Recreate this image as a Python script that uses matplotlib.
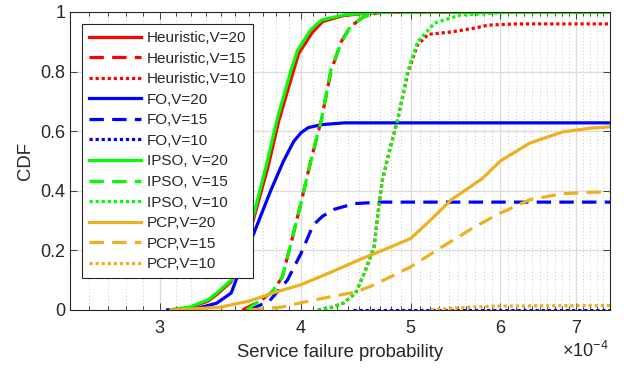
import numpy as np
import matplotlib
matplotlib.use("Agg")
import matplotlib.pyplot as plt
from matplotlib.ticker import FixedLocator, FixedFormatter, NullFormatter

plt.rcParams['font.family'] = ['Liberation Sans', 'DejaVu Sans']
plt.rcParams['mathtext.fontset'] = 'custom'
plt.rcParams['mathtext.rm'] = 'Liberation Sans'

# failure probability in units of 1e-4, CDF values
heu20_x = [3.05, 3.19, 3.31, 3.37, 3.47, 3.61, 3.74, 3.82, 3.93, 3.98, 4.09, 4.18, 4.36, 4.6, 4.75, 7.6]
heu20_y = [0.0, 0.008, 0.03, 0.052, 0.095, 0.27, 0.48, 0.63, 0.79, 0.86, 0.93, 0.968, 0.988, 0.997, 1.0, 1.0]
heu15_x = [3.55, 3.68, 3.77, 3.85, 3.92, 4.0, 4.08, 4.17, 4.25, 4.34, 4.42, 4.54, 4.67, 4.75, 7.6]
heu15_y = [0.0, 0.03, 0.06, 0.11, 0.225, 0.36, 0.5, 0.64, 0.8, 0.9, 0.95, 0.983, 0.997, 1.0, 1.0]
heu10_x = [4.14, 4.25, 4.36, 4.47, 4.55, 4.64, 4.69, 4.72, 4.8, 4.87, 4.97, 5.07, 5.18, 5.43, 5.7, 5.85, 6.2, 7.6]
heu10_y = [0.0, 0.008, 0.023, 0.057, 0.124, 0.21, 0.36, 0.436, 0.55, 0.64, 0.795, 0.89, 0.925, 0.933, 0.946, 0.956, 0.96, 0.96]

fo20_x = [3.05, 3.22, 3.37, 3.47, 3.61, 3.76, 3.86, 3.94, 4.0, 4.06, 4.17, 4.37, 7.6]
fo20_y = [0.0, 0.003, 0.023, 0.057, 0.23, 0.40, 0.50, 0.565, 0.595, 0.612, 0.622, 0.628, 0.628]
fo15_x = [3.6, 3.75, 3.89, 4.0, 4.1, 4.18, 4.28, 4.46, 4.7, 7.6]
fo15_y = [0.0, 0.03, 0.1, 0.19, 0.285, 0.315, 0.338, 0.357, 0.362, 0.362]
fo10_x = [4.45, 7.6]
fo10_y = [0.0, 0.0]

ipso20_x = [3.07, 3.19, 3.31, 3.37, 3.47, 3.61, 3.73, 3.81, 3.92, 3.97, 4.08, 4.17, 4.36, 4.6, 4.75, 7.6]
ipso20_y = [0.0, 0.01, 0.034, 0.057, 0.10, 0.28, 0.49, 0.64, 0.805, 0.87, 0.94, 0.973, 0.99, 0.997, 1.0, 1.0]
ipso15_x = [3.58, 3.68, 3.77, 3.85, 3.92, 4.0, 4.08, 4.17, 4.25, 4.34, 4.42, 4.54, 4.67, 4.75, 7.6]
ipso15_y = [0.0, 0.032, 0.06, 0.11, 0.225, 0.36, 0.5, 0.64, 0.805, 0.896, 0.95, 0.983, 0.997, 1.0, 1.0]
ipso10_x = [4.14, 4.25, 4.36, 4.47, 4.55, 4.64, 4.69, 4.72, 4.8, 4.87, 4.97, 5.07, 5.25, 5.53, 6.0, 6.2, 7.6]
ipso10_y = [0.0, 0.008, 0.023, 0.057, 0.124, 0.21, 0.36, 0.436, 0.55, 0.64, 0.80, 0.90, 0.963, 0.99, 0.997, 1.0, 1.0]

pcp20_x = [3.07, 3.2, 3.4, 3.6, 3.8, 4.0, 4.24, 4.5, 4.72, 5.0, 5.2, 5.43, 5.78, 6.0, 6.37, 6.8, 7.2, 7.6]
pcp20_y = [0.0, 0.003, 0.01, 0.03, 0.06, 0.085, 0.125, 0.168, 0.2, 0.24, 0.3, 0.37, 0.44, 0.50, 0.56, 0.597, 0.61, 0.616]
pcp15_x = [3.6, 3.85, 4.03, 4.24, 4.47, 4.64, 5.0, 5.32, 5.7, 6.0, 6.37, 6.8, 7.2, 7.6]
pcp15_y = [0.0, 0.01, 0.027, 0.044, 0.06, 0.084, 0.145, 0.21, 0.28, 0.325, 0.37, 0.39, 0.395, 0.397]
pcp10_x = [5.21, 5.5, 5.9, 6.5, 7.6]
pcp10_y = [0.0, 0.007, 0.013, 0.014, 0.015]

xtick_vals = [3, 4, 5, 6, 7]
ytick_vals = [0, 0.2, 0.4, 0.6, 0.8, 1]

red, blue, green, orange = '#ff0000', '#0000ff', '#00ff00', '#edb120'
dashed = (0, (4.5, 2.6))
dotted = (0, (1.0, 0.9))

series = [
    (heu20_x, heu20_y, red, '-', 'Heuristic,V=20'),
    (heu15_x, heu15_y, red, dashed, 'Heuristic,V=15'),
    (heu10_x, heu10_y, red, dotted, 'Heuristic,V=10'),
    (fo20_x, fo20_y, blue, '-', 'FO,V=20'),
    (fo15_x, fo15_y, blue, dashed, 'FO,V=15'),
    (fo10_x, fo10_y, blue, dotted, 'FO,V=10'),
    (ipso20_x, ipso20_y, green, '-', 'IPSO, V=20'),
    (ipso15_x, ipso15_y, green, dashed, 'IPSO, V=15'),
    (ipso10_x, ipso10_y, green, dotted, 'IPSO, V=10'),
    (pcp20_x, pcp20_y, orange, '-', 'PCP,V=20'),
    (pcp15_x, pcp15_y, orange, dashed, 'PCP,V=15'),
    (pcp10_x, pcp10_y, orange, dotted, 'PCP,V=10'),
]

fig = plt.figure(figsize=(6.24, 3.69), dpi=100)
ax = fig.add_axes([0.1122, 0.1599, 0.8654, 0.8076])

for xs, ys, c, ls, lab in series:
    ax.plot(np.array(xs) * 1e-4, ys, color=c, linestyle=ls, linewidth=2.3, label=lab)

ax.set_xscale('log')
ax.set_xlim(2.5e-4, 7.5e-4)
ax.set_ylim(0, 1)

ax.xaxis.set_major_locator(FixedLocator([v * 1e-4 for v in xtick_vals]))
ax.xaxis.set_major_formatter(FixedFormatter([str(v) for v in xtick_vals]))
ax.xaxis.set_minor_locator(FixedLocator(np.arange(25, 76) * 1e-5))
ax.xaxis.set_minor_formatter(NullFormatter())
ax.set_yticks(ytick_vals)
ax.set_yticklabels(['0', '0.2', '0.4', '0.6', '0.8', '1'])

axcol = '#262626'
for s in ax.spines.values():
    s.set_color(axcol)
    s.set_linewidth(0.8)
ax.tick_params(which='both', direction='in', top=True, right=True, colors=axcol, labelsize=13)
ax.tick_params(which='major', length=5, width=0.6)
ax.tick_params(which='minor', length=3, width=0.6)
ax.tick_params(axis='x', which='major', pad=7)

ax.grid(True, which='major', color='#dcdcdc', linewidth=0.9, linestyle='-')
ax.grid(True, which='minor', axis='x', color='#c8c8c8', linewidth=0.7, linestyle=(0, (1, 2.5)))
ax.set_axisbelow(True)

ax.set_xlabel('Service failure probability', fontsize=13.3, color=axcol, labelpad=5)
ax.set_ylabel('CDF', fontsize=13.3, color=axcol, labelpad=4)
ax.text(0.998, -0.105, r'$\times\mathregular{10}^{\mathregular{-4}}$', transform=ax.transAxes,
        ha='right', va='top', fontsize=13, color=axcol)

leg = ax.legend(loc='upper left', bbox_to_anchor=(0.008, 0.985), fontsize=11,
                handlelength=3.4, handletextpad=0.4, labelspacing=0.43,
                borderpad=0.45, fancybox=False, framealpha=1, edgecolor=axcol)
leg.get_frame().set_linewidth(0.8)
for t in leg.get_texts():
    t.set_color(axcol)

fig.savefig('out.png', dpi=100)
